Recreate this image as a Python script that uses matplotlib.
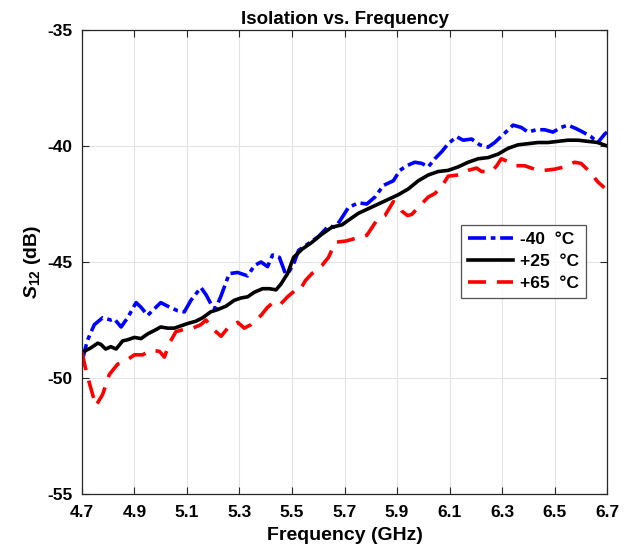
import matplotlib
matplotlib.use("Agg")
import matplotlib.pyplot as plt

# S12 readings (GHz, dB)
freq_m40 = [4.70, 4.72, 4.747, 4.779, 4.81, 4.823, 4.849, 4.874, 4.906, 4.925, 4.95, 5.0, 5.026,
            5.064, 5.09, 5.115, 5.153, 5.172, 5.198, 5.21, 5.23, 5.261, 5.293, 5.331, 5.357, 5.382,
            5.407, 5.426, 5.452, 5.475, 5.49, 5.509, 5.525, 5.563, 5.601, 5.639, 5.665, 5.684, 5.715,
            5.753, 5.785, 5.816, 5.848, 5.886, 5.911, 5.937, 5.968, 5.994, 6.019, 6.044, 6.07, 6.095,
            6.127, 6.152, 6.184, 6.215, 6.247, 6.272, 6.31, 6.342, 6.373, 6.399, 6.43, 6.462, 6.494,
            6.525, 6.551, 6.582, 6.608, 6.639, 6.665, 6.69, 6.70]
s12_m40 = [-49.3, -48.4, -47.7, -47.4, -47.5, -47.45, -47.8, -47.4, -46.75, -46.95, -47.3, -46.75, -46.9,
           -47.1, -47.15, -46.65, -46.1, -46.4, -46.95, -47.0, -46.45, -45.5, -45.45, -45.6, -45.15, -45.0,
           -45.2, -44.7, -44.8, -45.5, -45.4, -45.0, -44.5, -44.2, -43.9, -43.45, -43.5, -43.2, -42.65,
           -42.45, -42.5, -42.2, -41.7, -41.5, -41.05, -40.85, -40.7, -40.75, -40.9, -40.55, -40.25, -39.9,
           -39.6, -39.75, -39.7, -39.95, -40.05, -39.85, -39.45, -39.1, -39.2, -39.4, -39.3, -39.3, -39.4,
           -39.2, -39.1, -39.25, -39.4, -39.6, -39.85, -39.5, -39.4]

freq_p25 = [4.70, 4.734, 4.76, 4.772, 4.79, 4.81, 4.83, 4.855, 4.874, 4.90, 4.925, 4.95, 4.976, 5.0,
            5.026, 5.052, 5.077, 5.103, 5.134, 5.16, 5.19, 5.217, 5.249, 5.28, 5.306, 5.331, 5.357,
            5.388, 5.414, 5.439, 5.458, 5.483, 5.506, 5.538, 5.576, 5.614, 5.652, 5.69, 5.715, 5.753,
            5.791, 5.829, 5.867, 5.905, 5.943, 5.981, 6.019, 6.057, 6.095, 6.133, 6.171, 6.209, 6.247,
            6.285, 6.323, 6.361, 6.399, 6.437, 6.475, 6.513, 6.551, 6.589, 6.627, 6.665, 6.70]
s12_p25 = [-48.9, -48.7, -48.5, -48.55, -48.75, -48.65, -48.75, -48.4, -48.35, -48.25, -48.3, -48.1, -47.95, -47.8,
           -47.85, -47.85, -47.75, -47.65, -47.55, -47.4, -47.15, -47.05, -46.9, -46.65, -46.55, -46.5, -46.3,
           -46.15, -46.15, -46.2, -45.95, -45.5, -44.8, -44.45, -44.15, -43.8, -43.5, -43.4, -43.2, -42.9,
           -42.7, -42.5, -42.3, -42.1, -41.85, -41.5, -41.25, -41.1, -41.05, -40.9, -40.7, -40.55, -40.5,
           -40.35, -40.1, -39.95, -39.9, -39.85, -39.85, -39.8, -39.75, -39.75, -39.8, -39.85, -40.0]

freq_p65 = [4.70, 4.718, 4.734, 4.753, 4.779, 4.804, 4.836, 4.861, 4.90, 4.931, 4.963, 4.995, 5.014, 5.033,
            5.058, 5.09, 5.122, 5.153, 5.172, 5.20, 5.23, 5.255, 5.293, 5.318, 5.344, 5.382, 5.407,
            5.433, 5.458, 5.483, 5.509, 5.528, 5.551, 5.576, 5.614, 5.639, 5.665, 5.703, 5.753, 5.785,
            5.823, 5.854, 5.886, 5.905, 5.918, 5.94, 5.956, 5.981, 6.019, 6.044, 6.07, 6.095, 6.133, 6.171,
            6.203, 6.222, 6.26, 6.28, 6.297, 6.329, 6.354, 6.386, 6.424, 6.462, 6.50, 6.538, 6.576,
            6.601, 6.633, 6.665, 6.69]
s12_p65 = [-48.9, -49.8, -50.45, -51.2, -50.7, -49.85, -49.4, -49.3, -49.0, -49.0, -48.8, -48.85, -49.1, -48.5,
           -48.0, -47.9, -47.85, -47.7, -47.5, -47.9, -48.2, -47.85, -47.6, -47.85, -47.7, -47.3, -46.95,
           -46.7, -46.8, -46.5, -46.25, -46.25, -45.8, -45.5, -45.15, -44.8, -44.15, -44.1, -43.95, -43.85,
           -43.2, -43.0, -42.4, -42.55, -42.8, -43.0, -42.95, -42.65, -42.2, -42.05, -41.75, -41.3, -41.25, -41.05,
           -40.95, -41.1, -41.1, -40.85, -40.55, -40.7, -40.85, -40.85, -41.0, -41.05, -41.0, -40.9, -40.7,
           -40.75, -41.1, -41.55, -41.8]

labels = ['-40  \u00b0C', '+25  \u00b0C', '+65  \u00b0C']
xticks = [4.7, 4.9, 5.1, 5.3, 5.5, 5.7, 5.9, 6.1, 6.3, 6.5, 6.7]
yticks = [-55, -50, -45, -40, -35]

fam = 'Liberation Sans'
plt.rcParams['font.family'] = [fam, 'DejaVu Sans']
plt.rcParams['font.weight'] = 'bold'
plt.rcParams['axes.unicode_minus'] = False
plt.rcParams['mathtext.fontset'] = 'custom'
plt.rcParams['mathtext.it'] = fam + ':italic:bold'
plt.rcParams['mathtext.rm'] = fam + ':bold'
plt.rcParams['mathtext.bf'] = fam + ':bold'

fig = plt.figure(figsize=(6.33, 5.52), dpi=100)
ax = fig.add_axes([0.1295, 0.105, 0.8295, 0.8407])

lw = 2.6
ax.plot(freq_m40, s12_m40, color='#0000ff', lw=lw, dashes=(5, 1.3, 1.3, 1.3), label=labels[0])
ax.plot(freq_p25, s12_p25, color='black', lw=lw, label=labels[1])
ax.plot(freq_p65, s12_p65, color='#ff0000', lw=lw, dashes=(5, 3), label=labels[2])

ax.set_xlim(4.7, 6.7)
ax.set_ylim(-55, -35)
ax.set_xticks(xticks)
ax.set_xticklabels([f'{t:.1f}' for t in xticks])
ax.set_yticks(yticks)
ax.grid(True, color='#e3e3e3', lw=0.8)
ax.set_axisbelow(True)
ax.tick_params(direction='in', top=True, right=True, labelsize=12.5, length=5, color='#262626')
ax.tick_params(axis='x', pad=8)
ax.tick_params(axis='y', pad=7)
for s in ax.spines.values():
    s.set_color('#262626')
    s.set_linewidth(0.9)

ax.set_title('Isolation vs. Frequency', fontsize=13.5, fontweight='bold', pad=4)
ax.set_xlabel('Frequency (GHz)', fontsize=14, fontweight='bold', labelpad=5)
ax.set_ylabel(r'$S_{\mathrm{12}}$ (dB)', fontsize=14, fontweight='bold', labelpad=3)

leg = ax.legend(loc='upper left', bbox_to_anchor=(0.722, 0.58), fontsize=12.5, frameon=True,
                fancybox=False, edgecolor='#262626', handlelength=2.6, borderpad=0.4,
                labelspacing=0.4, handletextpad=0.4, borderaxespad=0)
leg.get_frame().set_linewidth(0.9)

fig.savefig('out.png', dpi=100)
